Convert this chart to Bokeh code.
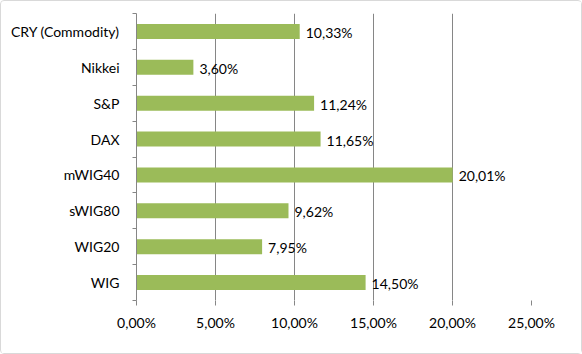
from bokeh.plotting import figure
from bokeh.models import ColumnDataSource, FixedTicker, Range1d
from bokeh.embed import file_html
from bokeh.resources import INLINE
from bokeh.core.properties import value

# Data (top to bottom as displayed)
categories = ["CRY (Commodity)", "Nikkei", "S&P", "DAX", "mWIG40", "sWIG80", "WIG20", "WIG"]
values = [10.33, 3.60, 11.24, 11.65, 20.01, 9.62, 7.95, 14.50]
x_ticks = [0, 5, 10, 15, 20, 25]
x_tick_labels = ["0,00%", "5,00%", "10,00%", "15,00%", "20,00%", "25,00%"]

n = len(categories)
ypos = [n - i - 0.5 for i in range(n)]
labels = [f"{v:.2f}".replace(".", ",") + "%" for v in values]

src = ColumnDataSource(dict(y=ypos, v=values, lab=labels, cat=categories))

FONT = "Lato"
FS = "14px"
TXT = "#000000"
GRID = "#868686"

p = figure(width=580, height=352, output_backend="svg", toolbar_location=None,
           x_range=Range1d(0, 25), y_range=Range1d(0, n),
           min_border_left=135, min_border_right=50, min_border_top=12, min_border_bottom=53)
p.frame_width = 395
p.frame_height = 287
p.outline_line_color = None
p.background_fill_color = "white"
p.border_fill_color = "white"
p.styles = {"border": "1px solid #d9d9d9", "border-radius": "4px"}

p.hbar(y="y", right="v", left=0, height=0.42, source=src, color="#9BBB59", line_color=None)
p.text(x="v", y="y", text="lab", source=src, x_offset=6, y_offset=1,
       text_baseline="middle", text_align="left", text_font=value(FONT),
       text_font_size=FS, text_color=TXT)

# X axis
p.xaxis.ticker = FixedTicker(ticks=x_ticks)
p.xaxis.major_label_overrides = {t: l for t, l in zip(x_ticks, x_tick_labels)}
p.xaxis.axis_line_color = None
p.xaxis.major_tick_out = 5
p.xaxis.major_tick_in = 0
p.xaxis.major_tick_line_color = GRID
p.xaxis.minor_tick_line_color = None
p.xaxis.major_label_standoff = 8
p.xaxis.major_label_text_font = FONT
p.xaxis.major_label_text_font_size = FS
p.xaxis.major_label_text_color = TXT

# Y axis: labels at centers, ticks at boundaries (minor ticks)
p.yaxis.ticker = FixedTicker(ticks=ypos, minor_ticks=list(range(n + 1)))
p.yaxis.major_label_overrides = {y: c for y, c in zip(ypos, categories)}
p.yaxis.axis_line_color = GRID
p.yaxis.major_tick_line_color = None
p.yaxis.major_tick_out = 0
p.yaxis.major_tick_in = 0
p.yaxis.minor_tick_line_color = GRID
p.yaxis.minor_tick_out = 4
p.yaxis.minor_tick_in = 0
p.yaxis.major_label_standoff = 13
p.yaxis.major_label_text_font = FONT
p.yaxis.major_label_text_font_size = FS
p.yaxis.major_label_text_color = TXT

p.xgrid.ticker = FixedTicker(ticks=x_ticks[1:])
p.xgrid.grid_line_color = GRID
p.ygrid.grid_line_color = None

open("out.html", "w").write(file_html(p, INLINE))
